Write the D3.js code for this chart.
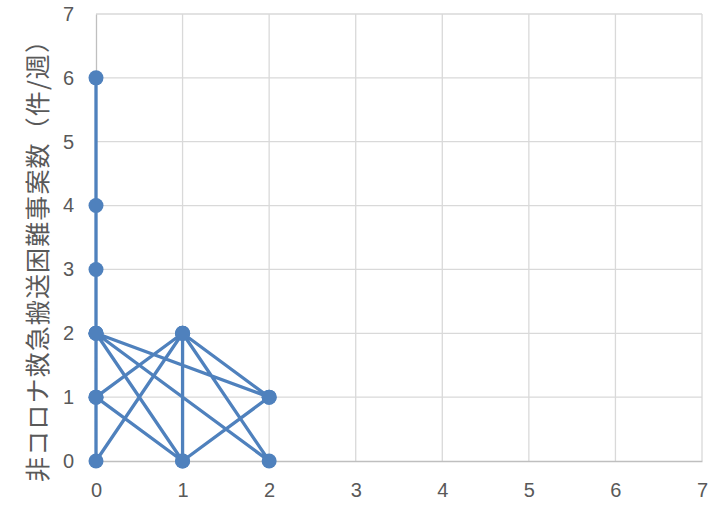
<!DOCTYPE html>
<html>
<head>
<meta charset="utf-8">
<script src="https://cdn.jsdelivr.net/npm/d3@7"></script>
<style>
  html, body { margin: 0; padding: 0; background: #fff; }
  svg { display: block; }
</style>
</head>
<body>
<svg id="chart" width="728" height="507"></svg>
<script>
// Data: weekly points (x, y) in sequence, connected by a line
const xValues = [0, 0, 0, 0, 0, 0, 1, 0, 1, 0, 2, 1, 1, 2, 1, 2, 0];
const yValues = [6, 4, 3, 2, 1, 0, 2, 1, 0, 2, 0, 2, 0, 1, 2, 1, 2];
const xTicks = [0, 1, 2, 3, 4, 5, 6, 7];
const yTicks = [0, 1, 2, 3, 4, 5, 6, 7];
const yTitle = "非コロナ救急搬送困難事案数（件/週）";

const points = xValues.map((x, i) => ({ x, y: yValues[i] }));

const svg = d3.select("#chart");
const margin = { left: 96, right: 26, top: 14, bottom: 46 };
const W = 728, H = 507;

const x = d3.scaleLinear().domain([0, 7]).range([margin.left, W - margin.right]);
const y = d3.scaleLinear().domain([0, 7]).range([H - margin.bottom, margin.top]);

const font = "'Liberation Sans', Arial, sans-serif";

// Gridlines
const grid = svg.append("g");
grid.selectAll(".vg").data(xTicks.filter(d => d > 0)).enter().append("line")
  .attr("x1", d => x(d)).attr("x2", d => x(d))
  .attr("y1", y(0)).attr("y2", y(7))
  .attr("stroke", "#d9d9d9").attr("stroke-width", 1.3);
grid.selectAll(".hg").data(yTicks.filter(d => d > 0)).enter().append("line")
  .attr("x1", x(0)).attr("x2", x(7))
  .attr("y1", d => y(d)).attr("y2", d => y(d))
  .attr("stroke", "#d9d9d9").attr("stroke-width", 1.3);

// Axes
const xAxis = svg.append("g").attr("transform", `translate(0,${y(0)})`)
  .call(d3.axisBottom(x).tickValues(xTicks).tickSize(0).tickPadding(22).tickFormat(d3.format("d")));
const yAxis = svg.append("g").attr("transform", `translate(${x(0)},0)`)
  .call(d3.axisLeft(y).tickValues(yTicks).tickSize(0).tickPadding(22).tickFormat(d3.format("d")));
[xAxis, yAxis].forEach(g => {
  g.select(".domain").attr("stroke", "#bfbfbf").attr("stroke-width", 1.3);
  g.selectAll("text").attr("fill", "#595959").style("font-family", font).style("font-size", "20px");
});

// Y title
svg.append("text")
  .attr("transform", `translate(47,${(28 + 482) / 2}) rotate(-90)`)
  .attr("text-anchor", "middle")
  .attr("textLength", 454)
  .attr("lengthAdjust", "spacing")
  .attr("fill", "#595959")
  .style("font-family", "'Noto Sans CJK JP', sans-serif")
  .style("font-size", "25px")
  .text(yTitle);

// Line
const line = d3.line().x(d => x(d.x)).y(d => y(d.y));
svg.append("path").datum(points)
  .attr("d", line)
  .attr("fill", "none")
  .attr("stroke", "#4f81bd")
  .attr("stroke-width", 3.3)
  .attr("stroke-linejoin", "round");

// Markers
svg.selectAll(".pt").data(points).enter().append("circle")
  .attr("cx", d => x(d.x)).attr("cy", d => y(d.y))
  .attr("r", 7.5)
  .attr("fill", "#4f81bd");
</script>
</body>
</html>
